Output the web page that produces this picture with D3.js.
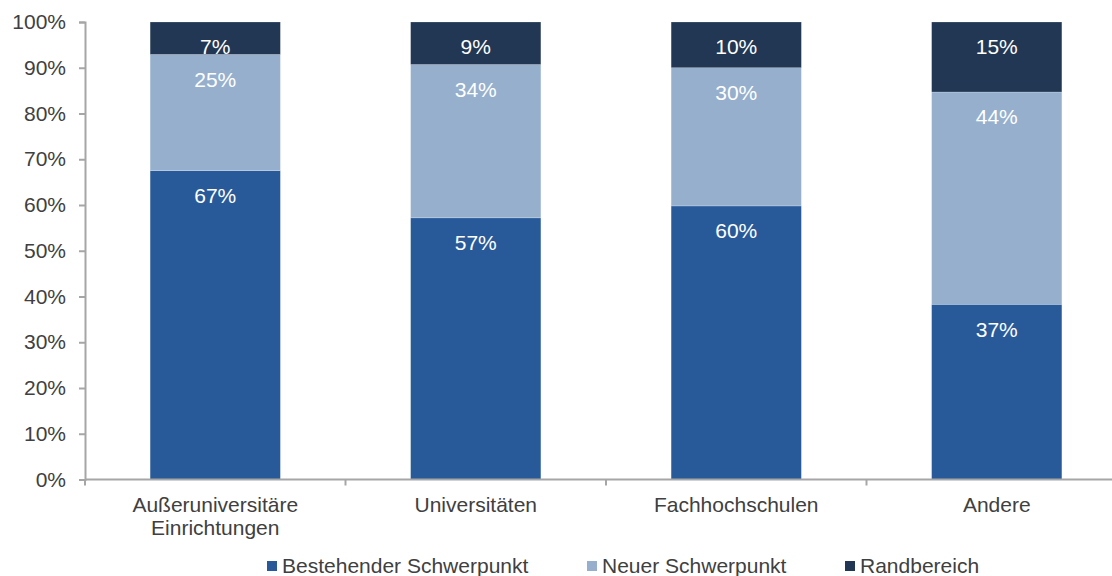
<!DOCTYPE html>
<html>
<head>
<meta charset="utf-8">
<script src="https://cdn.jsdelivr.net/npm/d3@7"></script>
<style>
  body { margin: 0; background: #fff; }
  svg { display: block; font-family: "Liberation Sans", Arial, sans-serif; }
</style>
</head>
<body>
<div id="chart-container"></div>
<script>
// values (segment heights in %), labels as printed
const categories = ["Außeruniversitäre\nEinrichtungen", "Universitäten", "Fachhochschulen", "Andere"];
const seriesNames = ["Bestehender Schwerpunkt", "Neuer Schwerpunkt", "Randbereich"];
const bestehend = [67.5, 57.2, 59.8, 38.3];
const neu       = [25.4, 33.5, 30.2, 46.4];
const rand      = [7.1, 9.3, 10.0, 15.3];
const bestehendLabels = ["67%", "57%", "60%", "37%"];
const neuLabels       = ["25%", "34%", "30%", "44%"];
const randLabels      = ["7%", "9%", "10%", "15%"];
const yTicks = [0, 10, 20, 30, 40, 50, 60, 70, 80, 90, 100];

const colors = ["#285a9a", "#95afcd", "#223754"];
const textColor = "#404040";
const fontSize = "21px";
const width = 1112, height = 576;

const svg = d3.select("#chart-container")
  .append("svg")
  .attr("width", width)
  .attr("height", height);

const x = d3.scaleBand()
  .domain(categories)
  .range([85, 1127])
  .paddingInner(0.5)
  .paddingOuter(0.25);

const y = d3.scaleLinear()
  .domain([0, 100])
  .range([479.5, 22]);

// stack
const rows = categories.map((c, i) => ({
  cat: c,
  [seriesNames[0]]: bestehend[i],
  [seriesNames[1]]: neu[i],
  [seriesNames[2]]: rand[i]
}));
const labelSets = [bestehendLabels, neuLabels, randLabels];
const stacked = d3.stack().keys(seriesNames)(rows);

const layers = svg.append("g").selectAll("g")
  .data(stacked)
  .join("g")
    .attr("fill", (d, i) => colors[i]);

layers.selectAll("rect")
  .data(d => d)
  .join("rect")
    .attr("x", d => x(d.data.cat))
    .attr("y", d => y(d[1]))
    .attr("width", x.bandwidth())
    .attr("height", d => y(d[0]) - y(d[1]))
    .attr("stroke", "rgba(255,255,255,0.35)")
    .attr("stroke-width", 0.6);

// value labels near top of each segment
stacked.forEach((layer, si) => {
  svg.append("g").selectAll("text")
    .data(layer)
    .join("text")
      .attr("x", d => x(d.data.cat) + x.bandwidth() / 2)
      .attr("y", d => y(d[1]) + 25)
      .attr("dy", "0.35em")
      .attr("text-anchor", "middle")
      .attr("fill", "#fff")
      .style("font-size", fontSize)
      .text((d, i) => labelSets[si][i]);
});

// y axis
const yAxis = d3.axisLeft(y)
  .tickValues(yTicks)
  .tickSize(6)
  .tickPadding(13)
  .tickFormat(d => d + "%");

const yg = svg.append("g")
  .attr("transform", "translate(85,0)")
  .call(yAxis);
yg.select(".domain").attr("stroke", "#a6a6a6").attr("stroke-width", 2);
yg.selectAll(".tick line").attr("stroke", "#a6a6a6").attr("stroke-width", 2);
yg.selectAll(".tick text")
  .attr("fill", textColor)
  .style("font-size", fontSize)
  .style("font-family", "'Liberation Sans', Arial, sans-serif");

// x axis line with boundary ticks
const step = x.step();
const x0 = x.range()[0];
svg.append("line")
  .attr("x1", x0).attr("x2", x.range()[1])
  .attr("y1", y(0)).attr("y2", y(0))
  .attr("stroke", "#a6a6a6").attr("stroke-width", 2);
svg.append("g").selectAll("line")
  .data(d3.range(categories.length + 1))
  .join("line")
    .attr("x1", i => x0 + i * step).attr("x2", i => x0 + i * step)
    .attr("y1", y(0)).attr("y2", y(0) + 6)
    .attr("stroke", "#a6a6a6").attr("stroke-width", 2);

// category labels
svg.append("g").selectAll("text")
  .data(categories)
  .join("text")
    .attr("x", d => x(d) + x.bandwidth() / 2)
    .attr("y", 505)
    .attr("text-anchor", "middle")
    .attr("fill", textColor)
    .style("font-size", fontSize)
    .each(function(d) {
      const t = d3.select(this);
      d.split("\n").forEach((line, i) => {
        t.append("tspan")
          .attr("x", x(d) + x.bandwidth() / 2)
          .attr("dy", i === 0 ? "0.35em" : "23px")
          .text(line);
      });
    });

// legend
const legendX = [267, 587, 845];
const legend = svg.append("g").selectAll("g")
  .data(seriesNames)
  .join("g")
    .attr("transform", (d, i) => `translate(${legendX[i]},566)`);
legend.append("rect")
  .attr("x", 0).attr("y", -5)
  .attr("width", 10).attr("height", 10)
  .attr("fill", (d, i) => colors[i]);
legend.append("text")
  .attr("x", 15)
  .attr("dy", "0.35em")
  .attr("fill", textColor)
  .style("font-size", fontSize)
  .text(d => d);
</script>
</body>
</html>
